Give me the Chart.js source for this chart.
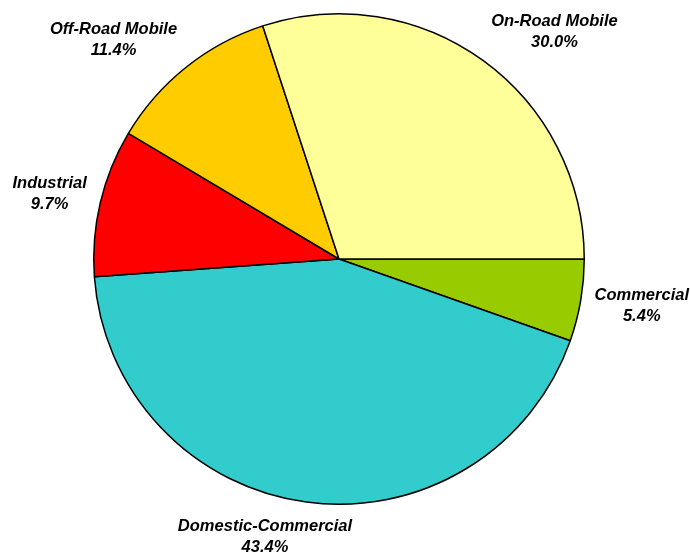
<!DOCTYPE html>
<html>
<head>
<meta charset="utf-8">
<script src="https://cdn.jsdelivr.net/npm/chart.js@4/dist/chart.umd.min.js"></script>
<style>
  html, body { margin: 0; padding: 0; background: #ffffff; }
  #wrap { width: 690px; height: 555px; }
</style>
</head>
<body>
<div id="wrap"><canvas id="pie" width="690" height="555"></canvas></div>
<script>
// Emission sources, share of total (%), listed clockwise from 3 o'clock
const categories = ['Commercial', 'Domestic-Commercial', 'Industrial', 'Off-Road Mobile', 'On-Road Mobile'];
const shares = [5.4, 43.4, 9.7, 11.4, 30.0];
const sliceColors = ['#99CC00', '#33CCCC', '#FF0000', '#FFCC00', '#FFFF99'];

// Two-line outside labels: category name and percentage
const outsideLabels = {
  id: 'outsideLabels',
  afterDatasetsDraw(chart) {
    const ctx = chart.ctx;
    const meta = chart.getDatasetMeta(0);
    const values = chart.data.datasets[0].data;
    const lineH = 21;
    ctx.save();
    ctx.font = 'italic bold 16.5px "Liberation Sans", Arial, sans-serif';
    ctx.fillStyle = '#000000';
    ctx.textAlign = 'center';
    ctx.textBaseline = 'middle';
    meta.data.forEach((arc, i) => {
      const p = arc.getProps(['x', 'y', 'startAngle', 'endAngle', 'outerRadius'], true);
      const mid = (p.startAngle + p.endAngle) / 2;
      const c = Math.cos(mid), s = Math.sin(mid);
      const r = p.outerRadius + 14;
      const ax = p.x + c * r;
      const ay = p.y + s * r;
      const line1 = chart.data.labels[i];
      const line2 = values[i].toFixed(1) + '%';
      const w = Math.max(ctx.measureText(line1).width, ctx.measureText(line2).width);
      const h = lineH * 2;
      const f = Math.max(-1, Math.min(1, c * 3.4));
      const cx = ax + f * w / 2;
      const cy = ay + s * h / 2;
      ctx.fillText(line1, cx, cy - lineH / 2);
      ctx.fillText(line2, cx, cy + lineH / 2);
    });
    ctx.restore();
  }
};

new Chart(document.getElementById('pie'), {
  type: 'pie',
  data: {
    labels: categories,
    datasets: [{
      data: shares,
      backgroundColor: sliceColors,
      borderColor: '#000000',
      borderWidth: 1.5
    }]
  },
  options: {
    responsive: false,
    animation: false,
    rotation: 90,
    layout: { padding: { left: 93, right: 105, top: 13, bottom: 50 } },
    plugins: {
      legend: { display: false },
      tooltip: { enabled: false }
    }
  },
  plugins: [outsideLabels]
});
</script>
</body>
</html>
